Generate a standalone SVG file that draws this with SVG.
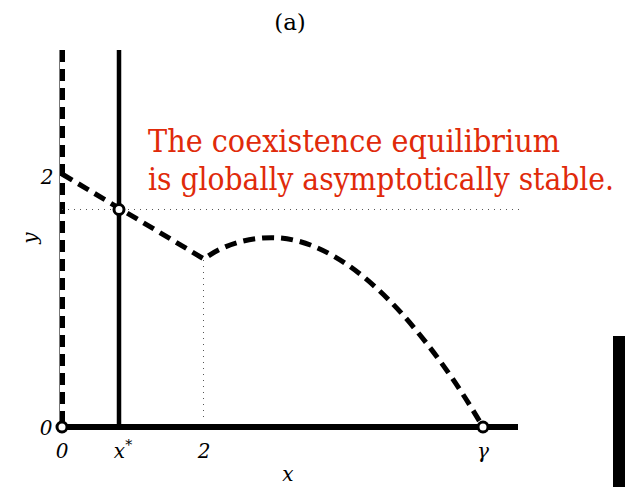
<svg xmlns="http://www.w3.org/2000/svg" width="625" height="487" viewBox="0 0 625 487">
<style>
.f{font-family:"DejaVu Serif","Liberation Serif",serif}
.lbl{font-size:20px;font-style:italic;fill:#000}
.red{font-size:31px;fill:#e02a0a}
.dash{fill:none;stroke:#000;stroke-width:5;stroke-dasharray:12,7}
.dot{fill:none;stroke:#555;stroke-width:1;stroke-dasharray:1,5}
.pt{fill:#fff;stroke:#000;stroke-width:3}
</style>
<rect width="625" height="487" fill="#fff"/>
<text class="f" x="290" y="30" font-size="23" text-anchor="middle">(a)</text>
<g id="connectors">
<line x1="59.5" y1="50" x2="59.5" y2="427" stroke="#777" stroke-width="1"/>
<line class="dash" x1="62.5" y1="50" x2="62.5" y2="427"/>
<line x1="119" y1="50" x2="119" y2="427" stroke="#000" stroke-width="4.5"/>
<line x1="60" y1="427" x2="518" y2="427" stroke="#000" stroke-width="6"/>
<line class="dot" x1="62" y1="209.5" x2="520" y2="209.5"/>
<line class="dot" x1="203.5" y1="260" x2="203.5" y2="422"/>
<path class="dash" d="M62,174 L204,259 C225,243 255,236 280,238 C330,242 380,285 420,335 C450,372 470,405 483,427"/>
</g>
<g id="equilibria">
<circle class="pt" cx="62" cy="427" r="5"/>
<circle class="pt" cx="119" cy="209.5" r="5"/>
<circle class="pt" cx="483" cy="427" r="5"/>
</g>
<g id="labels">
<text class="f lbl" x="47" y="184" text-anchor="middle" font-style="normal">2</text>
<text class="f lbl" x="46" y="435" text-anchor="middle">0</text>
<text class="f lbl" x="62" y="458" text-anchor="middle">0</text>
<text class="f lbl" x="123" y="458" text-anchor="middle">x<tspan font-size="14" dy="-8" font-style="normal">*</tspan></text>
<text class="f lbl" x="204" y="458" text-anchor="middle">2</text>
<text class="f lbl" x="483" y="458" text-anchor="middle">γ</text>
<text class="f lbl" x="288" y="481" text-anchor="middle">x</text>
<text class="f lbl" x="0" y="0" text-anchor="middle" transform="translate(37,238) rotate(-90)">y</text>
</g>
<g id="note">
<text class="f red" x="148" y="152" textLength="412" lengthAdjust="spacingAndGlyphs">The coexistence equilibrium</text>
<text class="f red" x="148" y="190" textLength="466" lengthAdjust="spacingAndGlyphs">is globally asymptotically stable.</text>
</g>
<rect x="613" y="336" width="12" height="151" fill="#000"/>
</svg>
